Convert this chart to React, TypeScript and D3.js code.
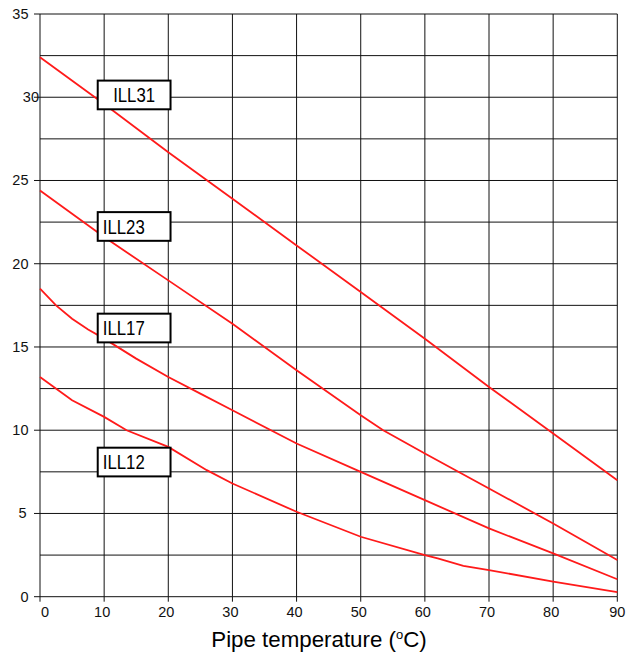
import React from "react";
import * as d3 from "d3";

const xTicks = [0, 10, 20, 30, 40, 50, 60, 70, 80, 90];
const yTicks = [0, 5, 10, 15, 20, 25, 30, 35];
const yGrid = [0, 2.5, 5, 7.5, 10, 12.5, 15, 17.5, 20, 22.5, 25, 27.5, 30, 32.5, 35];

const ill31 = [
  [0, 32.4], [10, 29.6], [20, 26.7], [30, 23.9], [40, 21.1], [50, 18.3],
  [60, 15.5], [70, 12.6], [80, 9.8], [90, 7.0],
];
const ill23 = [
  [0, 24.4], [10, 21.6], [20, 19.0], [30, 16.4], [40, 13.6], [50, 10.9],
  [53.5, 10.0], [60, 8.6], [70, 6.5], [80, 4.4], [90, 2.2],
];
const ill17 = [
  [0, 18.5], [2.5, 17.5], [5, 16.7], [7.5, 16.05], [10, 15.5], [15, 14.3],
  [20, 13.2], [25, 12.2], [30, 11.2], [40, 9.2], [50, 7.5], [60, 5.8],
  [70, 4.1], [80, 2.6], [90, 1.05],
];
const ill12 = [
  [0, 13.2], [5, 11.8], [10, 10.8], [13.5, 10.0], [20, 9.0], [26, 7.6],
  [30, 6.8], [40, 5.1], [50, 3.6], [60, 2.5], [62, 2.3], [66, 1.85],
  [70, 1.6], [80, 0.9], [90, 0.28],
];
const seriesList = [ill31, ill23, ill17, ill12];

const labelNames = ["ILL31", "ILL23", "ILL17", "ILL12"];
const labelX = [9.0, 9.0, 9.0, 9.0];
const labelY = [31.0, 23.1, 17.0, 8.95];

export default function App() {
  const W = 636, H = 653;
  const x = d3.scaleLinear().domain([0, 90]).range([40, 617.3]);
  const y = d3.scaleLinear().domain([0, 35]).range([596.7, 14]);
  const line = d3.line<number[]>().x((d) => x(d[0])).y((d) => y(d[1]));
  const boxW = x(20.35) - x(9.0);
  const boxH = 28.7;

  return (
    <svg width={W} height={H} style={{ position: "absolute", left: 0, top: 0, background: "#fff" }}
      fontFamily="'Liberation Sans', Arial, sans-serif">
      <rect width={W} height={H} fill="#fff" />
      {yGrid.map((v) => (
        <line key={"h" + v} x1={x(0)} x2={x(90)} y1={y(v)} y2={y(v)} stroke="#111" strokeWidth={1} />
      ))}
      {xTicks.map((v) => (
        <line key={"v" + v} x1={x(v)} x2={x(v)} y1={y(0)} y2={y(35)} stroke="#111" strokeWidth={1} />
      ))}
      {yTicks.map((v) => (
        <line key={"yt" + v} x1={x(0) - 6} x2={x(0)} y1={y(v)} y2={y(v)} stroke="#111" strokeWidth={1} />
      ))}
      {xTicks.map((v) => (
        <line key={"xt" + v} x1={x(v)} x2={x(v)} y1={y(0)} y2={y(0) + 5} stroke="#111" strokeWidth={1} />
      ))}
      {yTicks.map((v) => (
        <text key={"yl" + v} x={v === 30 ? 39 : v === 5 ? 26.7 : 28.5} y={y(v) + 5} fontSize={14.5}
          textAnchor="end" fill="#111">{v}</text>
      ))}
      {xTicks.map((v) => (
        <text key={"xl" + v} x={x(v) + (v === 0 ? 5 : v === 90 ? 0 : -2)} y={616.5} fontSize={14.5}
          textAnchor="middle" fill="#111">{v}</text>
      ))}
      {seriesList.map((s, i) => (
        <path key={"s" + i} d={line(s) || ""} fill="none" stroke="#ff1a1a" strokeWidth={1.8} />
      ))}
      {labelNames.map((n, i) => (
        <g key={n}>
          <rect x={x(labelX[i])} y={y(labelY[i])} width={boxW} height={boxH} fill="#fff" stroke="#000" strokeWidth={2} />
          <text x={i === 0 ? x(labelX[i]) + boxW / 2 : x(labelX[i]) + 5} y={y(labelY[i]) + 21.7}
            textAnchor={i === 0 ? "middle" : "start"} fontSize={20}
            textLength={42} lengthAdjust="spacingAndGlyphs" fill="#000">{n}</text>
        </g>
      ))}
      <text x={319} y={646.5} fontSize={22.3} textAnchor="middle" fill="#000">
        Pipe temperature (<tspan fontSize={13} dy={-8}>o</tspan><tspan dy={8}>C)</tspan>
      </text>
    </svg>
  );
}
